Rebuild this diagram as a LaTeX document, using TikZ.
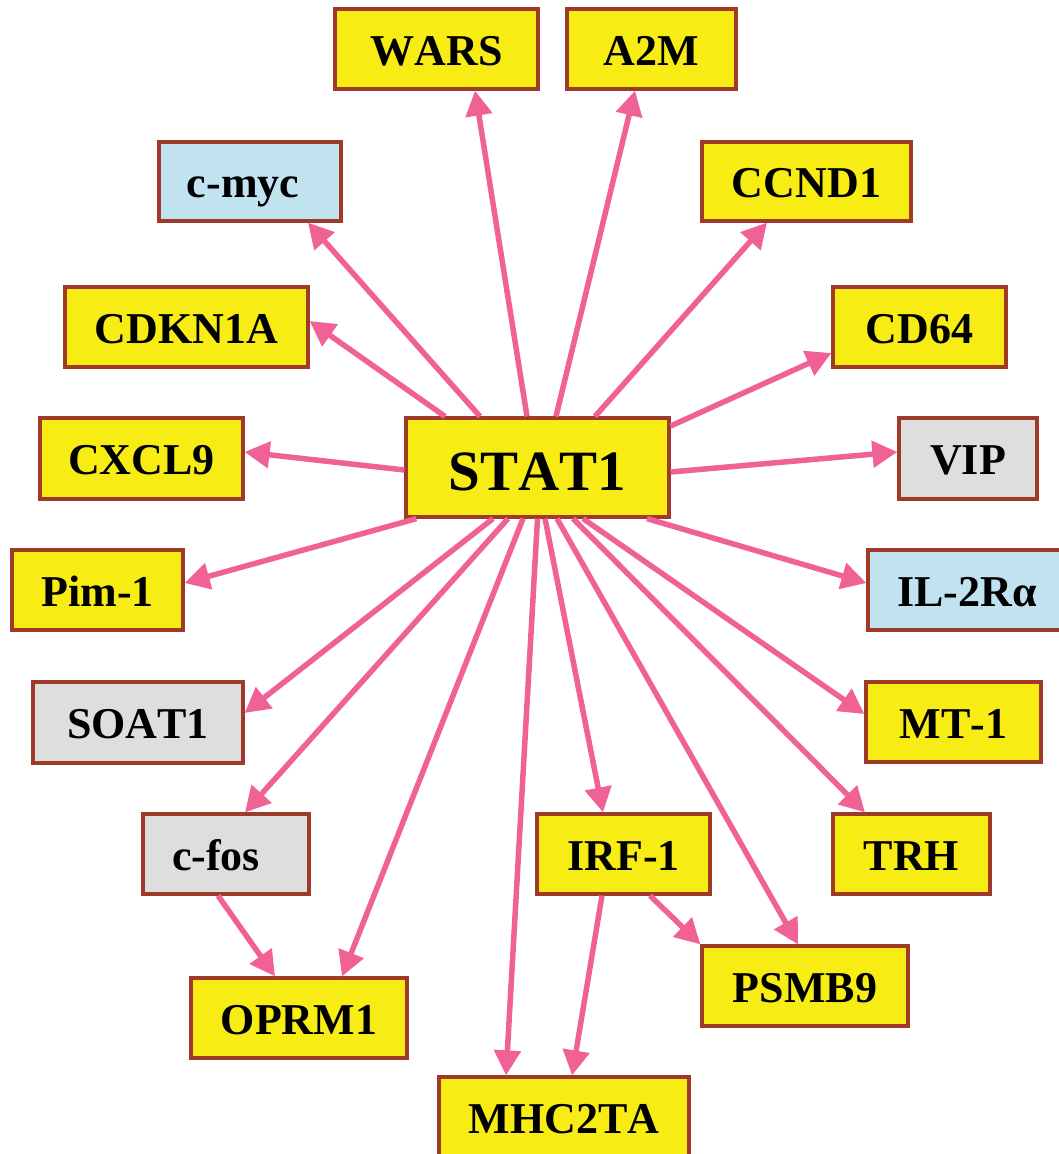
\documentclass[tikz,border=0pt]{standalone}
\usepackage{fontspec}
\setmainfont[Kerning=Off]{Liberation Serif}
\usetikzlibrary{arrows.meta}
\definecolor{geneyellow}{RGB}{247,236,20}
\definecolor{geneblue}{RGB}{192,227,239}
\definecolor{genegray}{RGB}{222,222,222}
\definecolor{geneborder}{RGB}{160,58,40}
\definecolor{edgepink}{RGB}{240,98,150}
\begin{document}
\begin{tikzpicture}[x=1pt,y=-1pt,
    gene/.style={draw=geneborder,line width=3.2pt,fill=geneyellow,inner sep=0pt,
      minimum height=80pt,text height=32pt,text depth=0pt,
      font=\fontsize{44}{44}\selectfont\bfseries},
    blue/.style={gene,fill=geneblue},
    gray/.style={gene,fill=genegray},
    edge/.style={draw=edgepink,line width=5.5pt,-{Triangle[length=25pt,width=26pt]}}]

      \useasboundingbox (0,0) rectangle (1058,1154);

      % central node
      \path (537.5,467.5) node[gene,minimum width=263pt,minimum height=99pt,
        text height=45pt,font=\fontsize{57}{57}\selectfont\bfseries] (stat) {STAT1};

      % targets
      \path (436.5,49) node[gene,minimum width=203pt] (wars) {WARS};
      \path (651.5,49) node[gene,minimum width=169pt] (atwom) {A2M};
      \path (250,181.5) node[blue,minimum width=182pt,minimum height=79pt] (cmyc) {c-myc\hspace*{14pt}};
      \path (806.5,181.5) node[gene,minimum width=209pt,minimum height=79pt] (ccnd) {CCND1};
      \path (186.5,327) node[gene,minimum width=243pt] (cdkn) {CDKN1A};
      \path (919.5,327) node[gene,minimum width=173pt] (cdsix) {CD64};
      \path (141.5,458.5) node[gene,minimum width=203pt,minimum height=81pt] (cxcl) {CXCL9};
      \path (968,458.5) node[gray,minimum width=138pt,minimum height=81pt] (vip) {VIP};
      \path (97.5,590) node[gene,minimum width=171pt] (pim) {Pim-1};
      \path (972,590) node[blue,minimum width=208pt] (iltwo) {IL-2Rα\hspace*{10pt}};
      \path (138,722.5) node[gray,minimum width=210pt,minimum height=81pt] (soat) {SOAT1};
      \path (953.5,722) node[gene,minimum width=175pt] (mtone) {MT-1};
      \path (226,854) node[gray,minimum width=166pt] (cfos) {c-fos\hspace*{20pt}};
      \path (623.5,854) node[gene,minimum width=173pt] (irf) {IRF-1};
      \path (911.5,854) node[gene,minimum width=157pt] (trh) {TRH};
      \path (805,986) node[gene,minimum width=206pt] (psmb) {PSMB9};
      \path (299,1018) node[gene,minimum width=216pt] (oprm) {OPRM1};
      \path (564,1117) node[gene,minimum width=250pt] (mhc) {MHC2TA};

      % edges from STAT1
      \draw[edge] ([xshift=-10.5pt]stat.north) -- ([xshift=38.5pt]wars.south);
      \draw[edge] ([xshift=18.5pt]stat.north) -- ([xshift=-16.5pt]atwom.south);
      \draw[edge] ([xshift=-57.5pt]stat.north) -- ([xshift=58pt]cmyc.south);
      \draw[edge] ([xshift=-92.5pt]stat.north) -- ([yshift=6pt]cdkn.east);
      \draw[edge] ([xshift=57.5pt]stat.north) -- ([xshift=-39.5pt]ccnd.south);
      \draw[edge] ([yshift=41.5pt]stat.east) -- ([yshift=-26pt]cdsix.west);
      \draw[edge] ([yshift=-2.5pt]stat.west) -- ([yshift=6.5pt]cxcl.east);
      \draw[edge] ([yshift=-4.5pt]stat.east) -- ([yshift=6.5pt]vip.west);
      \draw[edge] ([xshift=12pt]stat.south west) -- ([yshift=7pt]pim.east);
      \draw[edge] ([xshift=109.5pt]stat.south) -- ([yshift=7pt]iltwo.west);
      \draw[edge] ([xshift=-44.5pt]stat.south) -- ([yshift=9.5pt]soat.east);
      \draw[edge] ([xshift=45.5pt]stat.south) -- ([yshift=8pt]mtone.west);
      \draw[edge] ([xshift=-29.5pt]stat.south) -- ([xshift=19pt]cfos.north);
      \draw[edge] ([xshift=-14.5pt]stat.south) -- ([xshift=43pt]oprm.north);
      \draw[edge] (stat.south) -- ([xshift=-58pt]mhc.north);
      \draw[edge] ([xshift=7.5pt]stat.south) -- ([xshift=-20.5pt]irf.north);
      \draw[edge] ([xshift=19.5pt]stat.south) -- ([xshift=-7pt]psmb.north);
      \draw[edge] ([xshift=35.5pt]stat.south) -- ([xshift=-46.5pt]trh.north);

      % secondary edges
      \draw[edge] ([xshift=-8pt]cfos.south) -- ([xshift=-24pt]oprm.north);
      \draw[edge] ([xshift=-21.5pt]irf.south) -- ([xshift=8pt]mhc.north);
      \draw[edge] ([xshift=26.5pt]irf.south) -- (psmb.north west);
   \end{tikzpicture}
\end{document}
